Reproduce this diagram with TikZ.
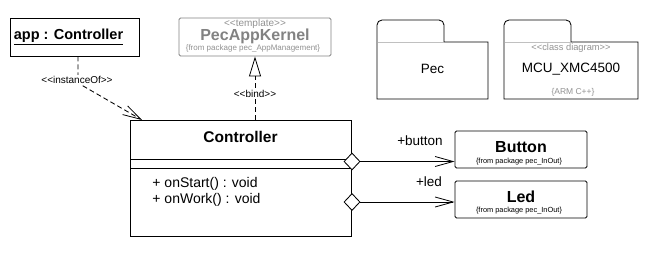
\documentclass[tikz,border=0pt]{standalone}
\usepackage{fontspec}
\setmainfont{Liberation Sans}
\usetikzlibrary{arrows.meta,shapes.geometric}
\newcommand{\fsz}[1]{\fontsize{#1pt}{#1pt}\selectfont}
\newcommand{\stL}{<\kern0pt<}
\newcommand{\stR}{>\kern0pt>}
\definecolor{kgray}{RGB}{130,130,130}
\definecolor{tgray}{RGB}{145,145,145}
\definecolor{lgray}{RGB}{192,192,192}
\begin{document}
\begin{tikzpicture}[x=1pt,y=-1pt,line width=0.85pt,
  box/.style={draw,inner sep=0pt,minimum width=#1},
  small/.style={font=\fsz{7.4},inner sep=0pt},
  stereo/.style={font=\fsz{10},inner sep=1pt},
  dia/.style={draw,fill=white,shape=diamond,inner sep=0pt,minimum width=16pt,minimum height=17pt},
  dsh/.style={dash pattern=on 5pt off 3pt},
  openarr/.style={-{Straight Barb[length=18pt,width=10pt,line width=0.8pt]}}
]
\useasboundingbox (0,0) rectangle (652,258);
% app : Controller
\node[box=129pt,minimum height=38pt] (app) at (74.5,37) {};
\node[font=\fsz{14.5}\bfseries,inner sep=0pt] (apptxt) at (68.5,37) {\underline{app : Controller}};
% PecAppKernel
\node[box=152pt,minimum height=38pt,draw=kgray,rounded corners=1.5pt] (kern) at (255,37) {};
\node[font=\fsz{10},text=tgray,inner sep=0pt] (kst) at (255,24) {\stL template\stR};
\node[font=\fsz{16}\bfseries,text=kgray,inner sep=0pt] (kname) at (255,36.5) {PecAppKernel};
\node[font=\fsz{8},text=tgray,inner sep=0pt] (kpkg) at (253,48) {\{from package pec\_AppManagement\}};
% Controller class
\node[box=221pt,minimum height=116pt] (ctrl) at (240.5,178) {};
\draw (130,159) -- (351,159);
\draw (130,168) -- (351,168);
\node[font=\fsz{15.5}\bfseries,inner sep=0pt] (cname) at (240.5,137) {Controller};
\node[font=\fsz{14},inner sep=0pt,anchor=west] (op1) at (152,184) {+ onStart() : void};
\node[font=\fsz{14},inner sep=0pt,anchor=west] (op2) at (152,200) {+ onWork() : void};
% Button / Led
\node[box=132pt,minimum height=37pt,rounded corners=1.5pt] (btn) at (521,149.5) {};
\node[font=\fsz{16}\bfseries,inner sep=0pt] (btnt) at (521,147) {Button};
\node[small] (btnp) at (519,162) {\{from package pec\_InOut\}};
\node[box=132pt,minimum height=37pt,rounded corners=1.5pt] (led) at (521,199.5) {};
\node[font=\fsz{16}\bfseries,inner sep=0pt] (ledt) at (521,197) {Led};
\node[small] (ledp) at (519,211) {\{from package pec\_InOut\}};
% associations
\node[dia] (d1) at (352,161.5) {};
\node[dia] (d2) at (352,202) {};
\draw[openarr] (d1.east) -- (d1.east -| btn.west);
\draw[openarr] (d2.east) -- (d2.east -| led.west);
\node[font=\fsz{13.5},inner sep=0pt] (lbtn) at (420,141) {+button};
\node[font=\fsz{13.5},inner sep=0pt] (lled) at (429,182) {+led};
% instanceOf
\coordinate (bend) at (78,83);
\coordinate (itip) at (142,120);
\draw[dsh,openarr] (app.south -| bend) -- (bend) -- (itip);
\node[stereo,fill=white] (linst) at (77,80) {\stL instanceOf\stR};
% bind
\draw[dsh,-{Triangle[open,length=20pt,width=12pt,line width=0.8pt]}] (kern.south |- ctrl.north) -- (kern.south);
\node[stereo,fill=white] (lbind) at (255,94) {\stL bind\stR};
% packages
\draw (377,99) -- (377,25) arc[start angle=180,end angle=270,radius=5] -- (439,20) arc[start angle=270,end angle=360,radius=5] -- (444,42) -- (488,42) -- (488,99) -- cycle;
\draw[lgray] (377.5,42) -- (443.5,42);
\node[font=\fsz{13.5},inner sep=0pt] (pec) at (432.5,69) {Pec};
\draw (504,99) -- (504,25) arc[start angle=180,end angle=270,radius=5] -- (566,20) arc[start angle=270,end angle=360,radius=5] -- (571,42) -- (638,42) -- (638,99) -- cycle;
\draw[lgray] (504.5,42) -- (570.5,42);
\node[font=\fsz{9.3},text=tgray,inner sep=0pt] (mst) at (571,48) {\stL class diagram\stR};
\node[font=\fsz{13.5},inner sep=0pt] (mcu) at (571,69) {MCU\_XMC4500};
\node[font=\fsz{8.5},text=tgray,inner sep=0pt] (arm) at (573,92) {\{ARM C++\}};
\end{tikzpicture}
\end{document}
